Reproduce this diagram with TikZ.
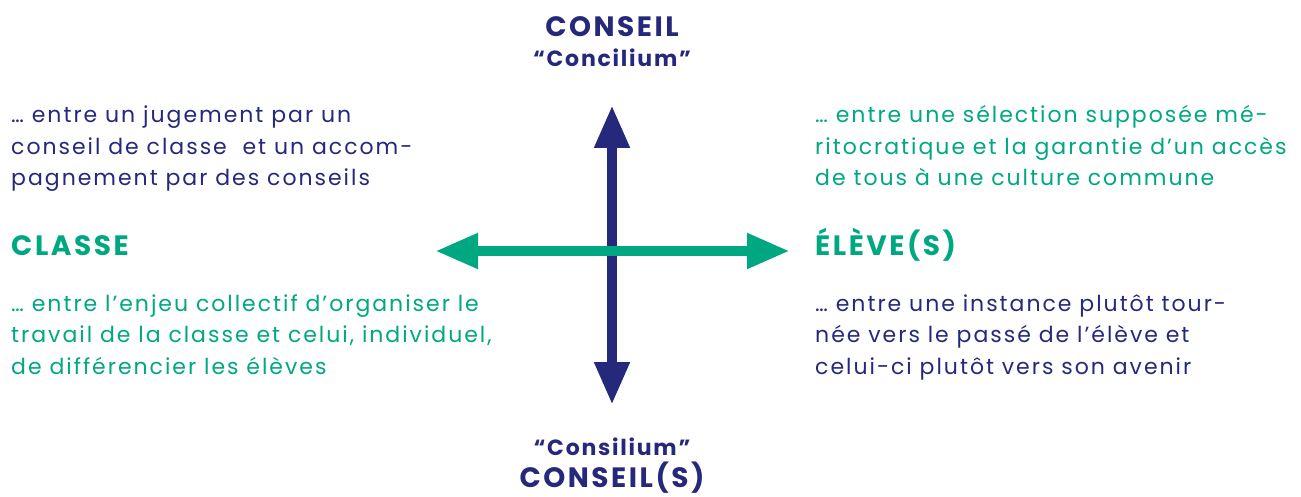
\documentclass[tikz,border=0pt]{standalone}
\usepackage{fontspec}
\setmainfont{Poppins}
\usepackage{tikz}
\usetikzlibrary{arrows.meta}
\usetikzlibrary{positioning}

\definecolor{axeblue}{RGB}{38,40,124}
\definecolor{axegreen}{RGB}{0,168,130}

\begin{document}
\begin{tikzpicture}[x=1pt,y=-1pt,
    axe/.style={line width=10.5pt, {Triangle[length=43pt,width=33pt]}-{Triangle[length=43pt,width=33pt]}},
    para/.style={anchor=base west, inner sep=0pt, align=left, font=\fontsize{22}{31.5}\selectfont\addfontfeature{LetterSpace=9}},
    pole/.style={anchor=base, inner sep=0pt, font=\fontsize{28}{32}\selectfont\bfseries\addfontfeature{LetterSpace=9}},
    motlatin/.style={anchor=base, inner sep=0pt, font=\fontsize{22}{26}\selectfont\bfseries\addfontfeature{LetterSpace=8}}]
  \useasboundingbox (0,0) rectangle (1301,497);

  %Straight Lines: axe conseil
  \coordinate (haut) at (612,105);
  \coordinate (bas) at (612,405);
  \draw [axe, color=axeblue] (haut) -- (bas);
  %Straight Lines: axe classe / eleves
  \coordinate (gauche) at (435,251);
  \coordinate (droite) at (790,251);
  \draw [axe, color=axegreen] (gauche) -- (droite);

  % Text Node
  \node [pole, color=axeblue] (conseil) at (612,37) {CONSEIL};
  % Text Node
  \node [motlatin, color=axeblue] (concilium) at (612,67) {“Concilium”};
  % Text Node
  \node [motlatin, color=axeblue] (consilium) at (612,455) {“Consilium”};
  % Text Node
  \node [pole, color=axeblue] (conseils) at (612,487) {CONSEIL(S)};
  % Text Node
  \node [pole, anchor=base west, color=axegreen] (classe) at (11,255) {CLASSE};
  % Text Node
  \node [pole, anchor=base west, color=axegreen] (eleves) at (815,255) {ÉLÈVE(S)};

  % Text Node (base = last line)
  \node [para, color=axeblue] (jugement) at (11,186) {… entre un jugement par un\\conseil de classe\ \ et un accom-\\pagnement par des conseils};
  % Text Node
  \node [para, color=axegreen] (selection) at (815,186) {… entre une sélection supposée mé-\\ritocratique et la garantie d’un accès\\de tous à une culture commune};
  % Text Node
  \node [para, color=axegreen] (enjeu) at (11,374) {… entre l’enjeu collectif d’organiser le\\travail de la classe et celui, individuel,\\de différencier les élèves};
  % Text Node
  \node [para, color=axeblue] (instance) at (815,374) {… entre une instance plutôt tour-\\née vers le passé de l’élève et\\celui-ci plutôt vers son avenir};

\end{tikzpicture}
\end{document}
